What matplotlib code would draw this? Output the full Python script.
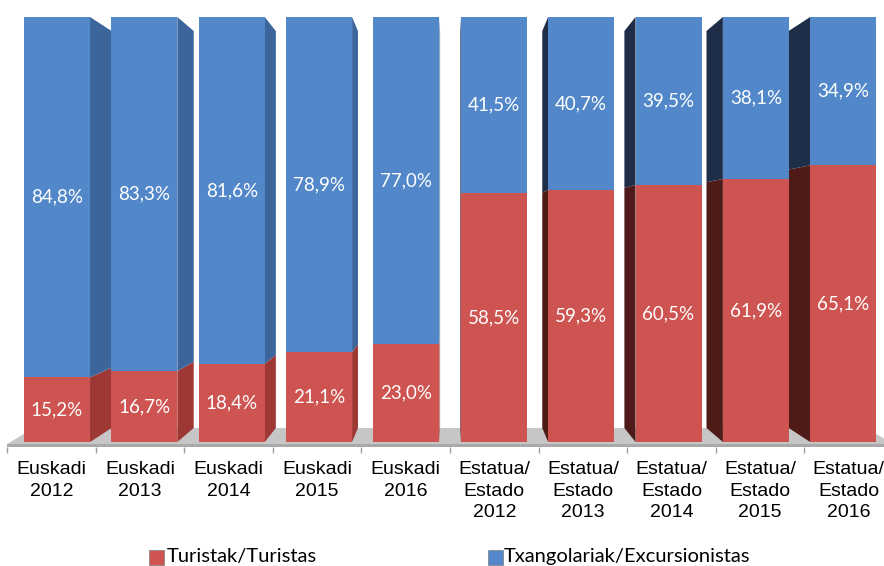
import matplotlib.pyplot as plt
from matplotlib.patches import Polygon, Rectangle
import numpy as np

categories = ['Euskadi\n2012', 'Euskadi\n2013', 'Euskadi\n2014', 'Euskadi\n2015', 'Euskadi\n2016',
              'Estatua/\nEstado\n2012', 'Estatua/\nEstado\n2013', 'Estatua/\nEstado\n2014',
              'Estatua/\nEstado\n2015', 'Estatua/\nEstado\n2016']
turistak = [15.2, 16.7, 18.4, 21.1, 23.0, 58.5, 59.3, 60.5, 61.9, 65.1]
txango = [84.8, 83.3, 81.6, 78.9, 77.0, 41.5, 40.7, 39.5, 38.1, 34.9]
series_names = ['Turistak/Turistas', 'Txangolariak/Excursionistas']

red_front, blue_front = '#CD5451', '#5288CA'
red_side_l, blue_side_l = '#9E3835', '#3C659B'
red_side_r, blue_side_r = '#4E1B19', '#1F2E48'

W, H = 884, 566
PX, PY = 88.6, 4.25       # pixels per category / per percent
x0px, base_py = 7, 442

fig = plt.figure(figsize=(W / 100, H / 100), dpi=100)
ax = fig.add_axes([0, 0, 1, 1])
ax.set_xlim(-x0px / PX - 0.5, (W - x0px) / PX - 0.5)
ax.set_ylim((base_py - H) / PY, base_py / PY)
ax.axis('off')

xc = 4.5      # perspective centre
depth = 0.06  # how far the back face moves towards the centre
lift = 3.3    # back face shrink at top and bottom (percent units)


def back_y(v):
    return lift + v * (100 - 2 * lift) / 100


# floor
fl, fr, ftop, fbot = -0.5, 9.5, -0.5, -1.1
ax.add_patch(Polygon([(fl, ftop), (fl + depth * (xc - fl), lift),
                      (fr - depth * (fr - xc), lift), (fr, ftop)],
                     closed=True, fc='#C6C6C6', ec='none', zorder=1))
ax.add_patch(Rectangle((fl, fbot), fr - fl, ftop - fbot, fc='#A9A9A9', ec='none', zorder=1))
ax.vlines(np.arange(11) - 0.5, -2.5, fbot, color='#A0A0A0', lw=1, zorder=1)

x = np.arange(len(categories))
fx = x - 0.014 * (x - 4.6)
bw = 0.745
bottoms = np.array(turistak)

# side faces
for i in range(len(x)):
    if fx[i] < xc:
        edge = fx[i] + bw / 2
        back = edge + depth * (xc - edge)
        cols = (red_side_l, blue_side_l)
    else:
        edge = fx[i] - bw / 2
        back = edge - depth * (edge - xc)
        cols = (red_side_r, blue_side_r)
    for (y0, y1), c in zip([(0, turistak[i]), (turistak[i], 100)], cols):
        ax.add_patch(Polygon([(edge, y0), (back, back_y(y0)), (back, back_y(y1)), (edge, y1)],
                             closed=True, fc=c, ec='none', zorder=2))

ax.bar(fx, turistak, bw, color=red_front, zorder=3)
ax.bar(fx, txango, bw, bottom=bottoms, color=blue_front, zorder=3)

for i in range(len(x)):
    ax.text(fx[i], turistak[i] / 2, f'{turistak[i]:.1f}%'.replace('.', ','), color='white',
            ha='center', va='center', family='Lato', size=13.5, zorder=5)
    ax.text(fx[i], turistak[i] + txango[i] / 2, f'{txango[i]:.1f}%'.replace('.', ','), color='white',
            ha='center', va='center', family='Lato', size=13.5, zorder=5)
    ax.text(x[i], -4.5, categories[i], ha='center', va='top', family='Liberation Sans',
            size=14, linespacing=1.36, color='black', zorder=5)

# legend
for (mx, tx), c, name in zip([(149, 167), (488, 504)], [red_front, blue_front], series_names):
    fig.patches.append(Rectangle((mx / W, 1 - 565 / H), 15 / W, 15 / H, transform=fig.transFigure,
                                 fc=c, ec='#7F7F7F', lw=0.5))
    fig.text(tx / W, 1 - 562 / H, name, ha='left', va='baseline', family='Lato', size=14.5,
             color='black')

fig.savefig('out.png', dpi=100)
